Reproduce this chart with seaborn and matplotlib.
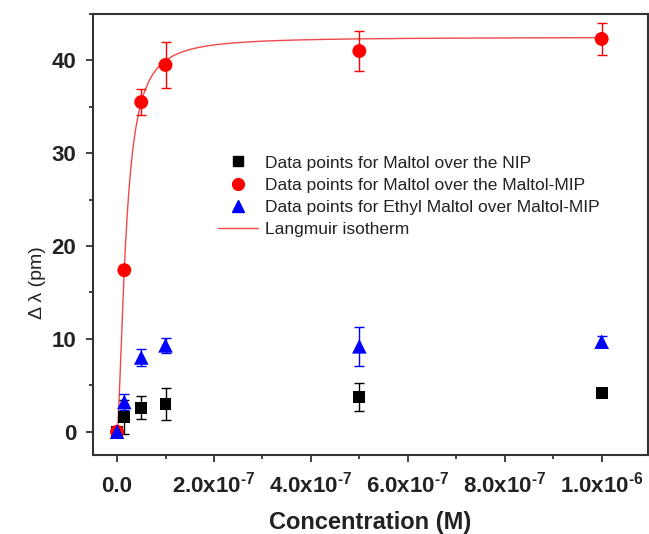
import numpy as np
import pandas as pd
import matplotlib
matplotlib.use('Agg')
import matplotlib.pyplot as plt
from matplotlib.ticker import MultipleLocator
from matplotlib.lines import Line2D
import seaborn as sns

# Concentraciones (M)
conc = [0.0, 1.5e-8, 5e-8, 1e-7, 5e-7, 1e-6]

# Maltol sobre NIP
nip_y = [0.0, 1.6, 2.6, 3.0, 3.7, 4.2]
nip_err = [0.3, 1.8, 1.2, 1.7, 1.5, 0.3]

# Maltol sobre Maltol-MIP
mip_y = [0.0, 17.4, 35.5, 39.5, 41.0, 42.3]
mip_err = [0.3, 0.3, 1.4, 2.5, 2.2, 1.7]

# Ethyl Maltol sobre Maltol-MIP
eth_y = [0.0, 3.2, 8.0, 9.3, 9.2, 9.7]
eth_err = [0.5, 0.9, 0.95, 0.8, 2.1, 0.6]

# Parametros del ajuste (isoterma tipo Langmuir)
q_max = 42.5
k_aff = 5.38e7
n_het = 1.64

HY = '\u2010'
xtick_vals = [0.0, 2e-7, 4e-7, 6e-7, 8e-7, 1e-6]
xtick_labels = ['0.0',
                '2.0x10$^{\\mathbf{' + HY + '7}}$',
                '4.0x10$^{\\mathbf{' + HY + '7}}$',
                '6.0x10$^{\\mathbf{' + HY + '7}}$',
                '8.0x10$^{\\mathbf{' + HY + '7}}$',
                '1.0x10$^{\\mathbf{' + HY + '6}}$']
ytick_vals = [0, 10, 20, 30, 40]

labels = ['Data points for Maltol over the NIP',
          'Data points for Maltol over the Maltol-MIP',
          'Data points for Ethyl Maltol over Maltol-MIP',
          'Langmuir isotherm']

sns.set_style('ticks')
plt.rcParams['font.family'] = ['Liberation Sans', 'DejaVu Sans']
plt.rcParams['mathtext.fontset'] = 'custom'
plt.rcParams['mathtext.rm'] = 'Liberation Sans'
plt.rcParams['mathtext.bf'] = 'Liberation Sans:bold'

fig = plt.figure(figsize=(6.49, 5.34), dpi=100)
ax = fig.add_axes([0.143, 0.148, 0.855, 0.826])

# Curva del ajuste
x_fit = np.linspace(0, 1e-6, 3000)
kx = (k_aff * x_fit) ** n_het
fit_df = pd.DataFrame({'x': x_fit, 'y': q_max * kx / (1 + kx)})
sns.lineplot(data=fit_df, x='x', y='y', color='#f04848', lw=1.0, ax=ax, zorder=2)

series = [
    (nip_y, nip_err, 's', 'black', 8.5),
    (mip_y, mip_err, 'o', '#ff0000', 10),
    (eth_y, eth_err, '^', '#0000ff', 10.5),
]
handles = []
for (yv, ev, mk, col, ms), lab in zip(series, labels[:3]):
    ax.errorbar(conc, yv, yerr=ev, fmt='none', ecolor=col, elinewidth=1.0,
                capsize=3.8, capthick=1.0, zorder=3)
    sns.scatterplot(x=conc, y=yv, marker=mk, color=col, s=ms ** 2,
                    edgecolor='none', ax=ax, zorder=4)
    handles.append(Line2D([], [], ls='none', marker=mk, color=col, ms=ms * 0.85))
handles.append(Line2D([], [], color='#f04848', lw=1.0))

ax.legend(handles, labels, loc='upper left', bbox_to_anchor=(0.2126, 0.695),
          frameon=False, fontsize=12.5, handlelength=2.3, handletextpad=0.4,
          labelspacing=0.4, borderaxespad=0, borderpad=0.4,
          labelcolor='#222222')

ax.set_xlim(-5e-8, 1.095e-6)
ax.set_ylim(-2.5, 45)
ax.set_xticks(xtick_vals)
ax.set_xticklabels(xtick_labels)
ax.set_yticks(ytick_vals)
ax.xaxis.set_minor_locator(MultipleLocator(1e-7))
ax.yaxis.set_minor_locator(MultipleLocator(5))
ax.tick_params(axis='both', which='major', direction='out', length=5, width=1.2,
               labelsize=16, colors='#222222', labelcolor='#222222')
ax.tick_params(axis='both', which='minor', direction='out', length=3, width=1.2,
               colors='#222222')
ax.tick_params(axis='y', pad=7)
ax.tick_params(axis='x', pad=22)
for lab in ax.get_yticklabels():
    lab.set_fontweight('bold')
for lab in ax.get_xticklabels():
    lab.set_fontweight('bold')
    lab.set_verticalalignment('baseline')

for sp in ax.spines.values():
    sp.set_visible(True)
    sp.set_linewidth(1.5)
    sp.set_color('#333333')

ax.set_xlabel('Concentration (M)', fontsize=17, fontweight='bold', color='#222222')
ax.xaxis.set_label_coords(0.5, -0.127)
ax.set_ylabel('\u0394 \u03bb (pm)', fontsize=14, color='#222222')
ax.yaxis.set_label_coords(-0.085, 0.39)

fig.savefig('out.png', dpi=100)
plt.close(fig)
